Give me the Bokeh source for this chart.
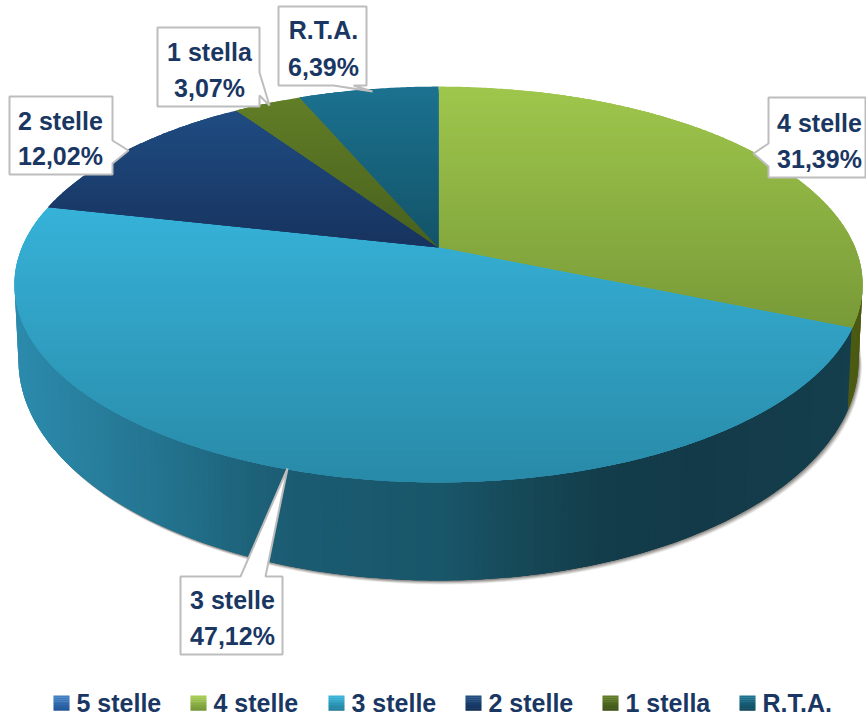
import math
import numpy as np
from bokeh.plotting import figure
from bokeh.models import Range1d
from bokeh.core.properties import value
from bokeh.embed import file_html
from bokeh.resources import INLINE

# ---- data -----------------------------------------------------------------
pie_categories = ["4 stelle", "3 stelle", "2 stelle", "1 stella", "R.T.A."]
pie_values = [31.39, 47.12, 12.02, 3.07, 6.39]
legend_labels = ["5 stelle", "4 stelle", "3 stelle", "2 stelle", "1 stella", "R.T.A."]

# ---- styles ---------------------------------------------------------------
top_colors = {
    "4 stelle": ("#9fc64c", "#789a38"),
    "3 stelle": ("#36b2d8", "#298aa8"),
    "2 stelle": ("#1f4c82", "#17335f"),
    "1 stella": ("#627e26", "#47601e"),
    "R.T.A.": ("#1b7290", "#135368"),
}
legend_colors = [("#3f7fc4", "#24589a"), ("#a4cc50", "#76983a"), ("#35b3d9", "#25829f"),
                 ("#1f4c82", "#14305a"), ("#5f7d25", "#3f5518"), ("#1b7290", "#124c60")]
wall_stops = [(14, "#2c8bad"), (100, "#277d9b"), (180, "#22708b"), (250, "#1d6279"),
              (300, "#1b5b71"), (440, "#18566a"), (520, "#164958"), (600, "#133d4b"),
              (700, "#133a48"), (862, "#153f4e")]
TEXT = "#1a3763"
BORDER = "#bdbdbd"
FONT = "Liberation Sans"
TEXT_SHIFT = -8

CX, CY0, A, B, K = 438.0, 247.0, 416.6, 191.0, 0.187
ELL_CY, ELL_RX, ELL_RY = 284.0, 424.0, 198.0
BOT_CY, BOT_RX, BOT_RY = 360.0, 420.0, 220.0


def rgb(h):
    return np.array([int(h[i:i + 2], 16) for i in (1, 3, 5)], float)


def mix(c1, c2, f):
    f = min(max(f, 0.0), 1.0)
    c = rgb(c1) * (1 - f) + rgb(c2) * f
    return "#%02x%02x%02x" % tuple(int(round(v)) for v in c)


def project(t):
    """Clockwise angle from 12 o'clock on a tilted disc, to picture position."""
    u, v = np.sin(t), np.cos(t)
    w = 1 + K * v
    return CX + A * u / w, CY0 - B * v / w


def clip_band(pts, y0, y1):
    def clip(poly, keep, cross):
        out = []
        for i in range(len(poly)):
            a, b = poly[i], poly[(i + 1) % len(poly)]
            if keep(a):
                out.append(a)
            if keep(a) != keep(b):
                out.append(cross(a, b))
        return out

    def at(y):
        return lambda a, b: (a[0] + (b[0] - a[0]) * (y - a[1]) / (b[1] - a[1]), y)

    p1 = clip(pts, lambda q: q[1] >= y0, at(y0))
    return clip(p1, lambda q: q[1] <= y1, at(y1)) if p1 else []


p = figure(width=866, height=716, output_backend="svg", toolbar_location=None,
           x_range=Range1d(0, 866), y_range=Range1d(716, 0), min_border=0,
           background_fill_color="white", border_fill_color="white",
           outline_line_color=None)
p.axis.visible = False
p.grid.visible = False

phi = np.radians(np.arange(180, -0.5, -1.0))

# soft shadow under the wall
bx = CX + BOT_RX * np.cos(phi)
by = BOT_CY + BOT_RY * np.sin(phi)
for off, alpha in [(5, 0.12), (4, 0.18), (3, 0.25), (2, 0.35), (1, 0.45)]:
    p.patch(np.r_[bx + off * 0.7, bx[::-1]], np.r_[by + off * 0.8, by[::-1] - 30],
            fill_color="#6f6a66", fill_alpha=alpha, line_color=None)

# wall, with horizontal gradient; each strip runs on under the next one
boundary_t = 2 * math.pi * pie_values[0] / sum(pie_values)
bnd_x, _ = project(boundary_t)
stop_x = [s[0] for s in wall_stops]
wx, wy, wc = [], [], []
for i in range(len(phi) - 1):
    a, b = phi[i], phi[min(i + 3, len(phi) - 1)]
    arc = np.linspace(a, b, 4)
    mid = CX + ELL_RX * np.cos((phi[i] + phi[i + 1]) / 2)
    j = min(max(np.searchsorted(stop_x, mid) - 1, 0), len(stop_x) - 2)
    f = (mid - stop_x[j]) / (stop_x[j + 1] - stop_x[j])
    col = mix(wall_stops[j][1], wall_stops[j + 1][1], f)
    if mid > bnd_x:
        col = "#4c5a12"
    wx.append(list(CX + ELL_RX * np.cos(arc)) + list(CX + BOT_RX * np.cos(arc[::-1])))
    wy.append(list(ELL_CY + ELL_RY * np.sin(arc)) + list(BOT_CY + BOT_RY * np.sin(arc[::-1])))
    wc.append(col)
p.patches(wx, wy, fill_color=wc, line_color=None)

# top face: each slice as horizontal bands, for the vertical gradient;
# each band runs on under the next one so that no seam shows
total = sum(pie_values)
start = 0.0
for name, val in zip(pie_categories, pie_values):
    t0 = 2 * math.pi * start / total
    t1 = 2 * math.pi * (start + val) / total
    start += val
    ts = np.linspace(t0, t1, max(int(val * 8), 12))
    px, py = project(ts)
    poly = [(CX, CY0)] + list(zip(px, py))
    ymin, ymax = min(q[1] for q in poly), max(q[1] for q in poly)
    edges = np.arange(ymin, ymax + 3, 3.0)
    xs, ys, cs = [], [], []
    for y0, y1 in zip(edges[:-1], edges[1:]):
        piece = clip_band(poly, y0, min(y1 + 6, ymax))
        if len(piece) < 3:
            continue
        xs.append([q[0] for q in piece])
        ys.append([q[1] for q in piece])
        cs.append(mix(*top_colors[name], ((y0 + y1) / 2 - ymin) / (ymax - ymin)))
    p.patches(xs, ys, fill_color=cs, line_color=None)

# callout boxes: box corners, tail base and tip
callouts = {
    "4 stelle": dict(box=(768, 97, 865, 177), tail=[(768, 143), (753, 153), (768, 166)], side="left",
                     x=819, base=(130, 166)),
    "3 stelle": dict(box=(180, 576, 282, 654), tail=[(265, 576), (287, 468), (240, 576)], side="top",
                     x=232, base=(607, 643)),
    "2 stelle": dict(box=(9, 96, 112, 174), tail=[(112, 140), (128, 150), (112, 163)], side="right",
                     x=60, base=(128, 163)),
    "1 stella": dict(box=(157, 27, 259, 106), tail=[(259, 72), (269, 105), (259, 95)], side="right",
                     x=209, base=(59, 95)),
    "R.T.A.": dict(box=(278, 6, 366, 85), tail=[(353, 85), (372, 91), (333, 85)], side="bottom",
                   x=323, base=(37, 74)),
}
for name, val in zip(pie_categories, pie_values):
    c = callouts[name]
    l, t, r, b = c["box"]
    if c["side"] == "left":
        outline = [(l, t), (r, t), (r, b), (l, b)] + [c["tail"][2], c["tail"][1], c["tail"][0]]
    elif c["side"] == "right":
        outline = [(l, t), (r, t)] + c["tail"] + [(r, b), (l, b)]
    elif c["side"] == "top":
        outline = [(l, t), (c["tail"][2][0], t), c["tail"][1], (c["tail"][0][0], t), (r, t), (r, b), (l, b)]
    else:
        outline = [(l, t), (r, t), (r, b)] + c["tail"] + [(l, b)]
    p.patch([q[0] for q in outline], [q[1] for q in outline], fill_color="white",
            line_color=BORDER, line_width=2)
    pct = f"{val:.2f}".replace(".", ",") + "%"
    p.text([c["x"], c["x"]], list(c["base"]), text=[name, pct], text_color=TEXT,
           text_font=value(FONT), text_font_style="bold", text_font_size="25px",
           text_align="center", text_baseline="alphabetic", y_offset=TEXT_SHIFT)

# legend
marker_left = [53, 190, 328, 465, 602, 739]
for lab, mx, cols in zip(legend_labels, marker_left, legend_colors):
    ed = np.linspace(695, 710, 9)
    p.quad(left=mx, right=mx + 16, top=ed[:-1], bottom=ed[1:] + 0.3,
           fill_color=[mix(*cols, i / 7) for i in range(8)], line_color=None)
    p.text([mx + 23], [710], text=[lab], text_color=TEXT, text_font=value(FONT),
           text_font_style="bold", text_font_size="25px", text_align="left",
           text_baseline="alphabetic", y_offset=TEXT_SHIFT)

open("out.html", "w").write(file_html(p, INLINE))
